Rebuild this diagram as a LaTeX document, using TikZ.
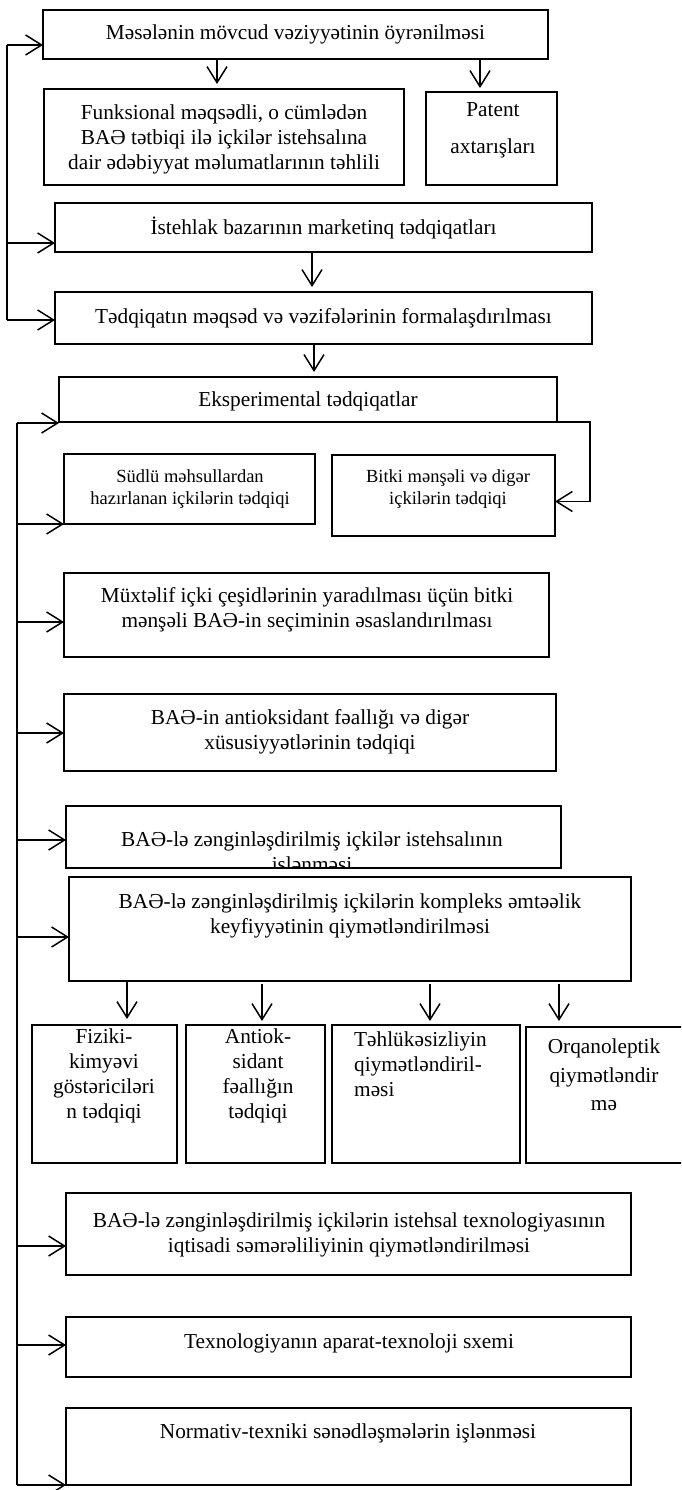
\documentclass[tikz,border=0pt]{standalone}
\usepackage{fontspec}
\setmainfont{Liberation Serif}
\usetikzlibrary{arrows.meta,calc}
\newcommand\bx[5]{\node[box,minimum width=#4pt-#2pt,minimum height=#5pt-#3pt] (#1) at (#2,#3) {};}
\begin{document}
\begin{tikzpicture}[x=1pt,y=-1pt,
  box/.style={draw,line width=1.5pt,anchor=north west,inner sep=0pt,outer sep=0pt},
  txt/.style={align=center,inner sep=0pt,font=\fontsize{21.3}{25}\selectfont},
  small/.style={align=center,inner sep=0pt,font=\fontsize{18.5}{21.5}\selectfont},
  arr/.style={line width=1.5pt,-{Straight Barb[length=16pt,width=20pt]}},
  ln/.style={line width=1.5pt}]
\useasboundingbox (0,0) rectangle (681,1490);
\clip (0,0) rectangle (681,1490);
% boxes
\bx{A}{43}{10}{548}{59}
\bx{B}{44}{89}{404}{185}
\bx{C}{426}{92}{557}{185}
\bx{D}{55}{203}{592}{252}
\bx{E}{55}{292}{592}{344}
\bx{F}{59}{377}{557}{422}
\bx{G}{64}{454}{315}{524}
\bx{H}{332}{455}{555}{536}
\bx{I}{64}{573}{549}{657}
\bx{J}{64}{694}{556}{771}
\bx{K}{66}{806}{561}{868}
\bx{L}{69}{877}{631}{981}
\bx{Ma}{32}{1025}{177}{1163}
\bx{Mb}{186}{1025}{325}{1163}
\bx{Mc}{332}{1025}{520}{1163}
\bx{Md}{526}{1027}{700}{1163}
\bx{N}{66}{1193}{631}{1275}
\bx{O}{66}{1317}{631}{1377}
\bx{P}{66}{1408}{631}{1485}
% texts
\node[txt] (tA) at (A.center) {Məsələnin mövcud vəziyyətinin öyrənilməsi};
\node[txt] (tB) at (224,139) {Funksional məqsədli, o cümlədən\\BAƏ tətbiqi ilə içkilər istehsalına\\dair ədəbiyyat məlumatlarının təhlili};
\node[txt,font=\fontsize{21.3}{37}\selectfont] (tC) at (493,130) {Patent\\axtarışları};
\node[txt] (tD) at (D.center) {İstehlak bazarının marketinq tədqiqatları};
\node[txt] (tE) at (E.center) {Tədqiqatın məqsəd və vəzifələrinin formalaşdırılması};
\node[txt] (tF) at (308,401) {Eksperimental tədqiqatlar};
\node[small] (tG) at (190,489) {Südlü məhsullardan\\hazırlanan içkilərin tədqiqi};
\node[small] (tH) at (448,489) {Bitki mənşəli və digər\\içkilərin tədqiqi};
\node[txt] (tI) at (307,610) {Müxtəlif içki çeşidlərinin yaradılması üçün bitki\\mənşəli BAƏ-in seçiminin əsaslandırılması};
\node[txt] (tJ) at (310,732) {BAƏ-in antioksidant fəallığı və digər\\xüsusiyyətlərinin tədqiqi};
\begin{scope}
\clip (K.north west) rectangle (K.south east);
\node[txt] (tK) at (312,854) {BAƏ-lə zənginləşdirilmiş içkilər istehsalının\\işlənməsi};
\end{scope}
\node[txt] (tL) at (350,916) {BAƏ-lə zənginləşdirilmiş içkilərin kompleks əmtəəlik\\keyfiyyətinin qiymətləndirilməsi};
\node[txt] (tMa) at (104,1076) {Fiziki-\\kimyəvi\\göstəriciləri\\n tədqiqi};
\node[txt] (tMb) at (258,1076) {Antiok-\\sidant\\fəallığın\\tədqiqi};
\node[txt,align=left,anchor=west] (tMc) at (354,1064) {Təhlükəsizliyin\\qiymətləndiril-\\məsi};
\node[txt,font=\fontsize{21.3}{28.5}\selectfont] (tMd) at (604,1075) {Orqanoleptik\\qiymətləndir\\mə};
\node[txt] (tN) at (349,1235) {BAƏ-lə zənginləşdirilmiş içkilərin istehsal texnologiyasının\\iqtisadi səmərəliliyinin qiymətləndirilməsi};
\node[txt] (tO) at (349,1343) {Texnologiyanın aparat-texnoloji sxemi};
\node[txt] (tP) at (348,1433) {Normativ-texniki sənədləşmələrin işlənməsi};
% left feedback line 1
\coordinate (v1a) at (7,45);
\coordinate (v1d) at (7,243);
\coordinate (v1b) at (7,320);
\draw[ln] (v1b) -- (v1a);
\draw[arr] (v1a) -- (v1a -| A.west);
\draw[arr] (v1d) -- (v1d -| D.west);
\draw[arr] (v1b) -- (v1b -| E.west);
% down arrows
\coordinate (xab) at (217,0);
\coordinate (xac) at (480,0);
\coordinate (xde) at (312,0);
\coordinate (xef) at (314,0);
\draw[arr] (xab |- A.south) -- ($(xab |- B.north)+(0,-5)$);
\draw[arr] (xac |- A.south) -- ($(xac |- C.north)+(0,-4)$);
\draw[arr] (xde |- D.south) -- ($(xde |- E.north)+(0,-5)$);
\draw[arr] (xef |- E.south) -- ($(xef |- F.north)+(0,-5)$);
% F -> H
\draw[arr] (F.south east) -- ++(33,0) |- ($(H.east)+(0,6)$);
% left line 2
\coordinate (v2a) at (17,423);
\coordinate (v2g) at (17,524);
\coordinate (v2i) at (17,622);
\coordinate (v2j) at (17,733);
\coordinate (v2k) at (17,840);
\coordinate (v2l) at (17,937);
\coordinate (v2n) at (17,1246);
\coordinate (v2o) at (17,1345);
\coordinate (v2b) at (17,1485);
\draw[ln] (v2a) -- (v2b);
\draw[arr] (v2a) -- (v2a -| F.west);
\draw[arr] (v2g) -- (v2g -| G.west);
\draw[arr] (v2i) -- (v2i -| I.west);
\draw[arr] (v2j) -- (v2j -| J.west);
\draw[arr] (v2k) -- (v2k -| K.west);
\draw[arr] (v2l) -- (v2l -| L.west);
\draw[arr] (v2n) -- (v2n -| N.west);
\draw[arr] (v2o) -- (v2o -| O.west);
\draw[arr] (v2b) -- (v2b -| P.west);
% L -> M arrows
\coordinate (xm1) at (127,0);
\coordinate (xm2) at (262,0);
\coordinate (xm3) at (430,0);
\coordinate (xm4) at (559,0);
\draw[arr] (xm1 |- L.south) -- ($(xm1 |- Ma.north)+(0,-6)$);
\draw[arr] ($(xm2 |- L.south)+(0,3)$) -- ($(xm2 |- Mb.north)+(0,-4)$);
\draw[arr] ($(xm3 |- L.south)+(0,3)$) -- ($(xm3 |- Mc.north)+(0,-4)$);
\draw[arr] ($(xm4 |- L.south)+(0,3)$) -- ($(xm4 |- Md.north)+(0,-6)$);
\end{tikzpicture}
\end{document}
